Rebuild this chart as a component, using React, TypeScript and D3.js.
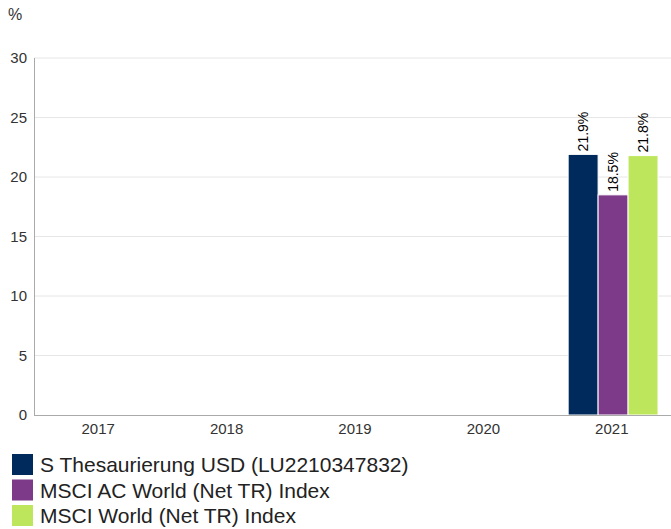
import React from 'react';
import * as d3 from 'd3';

const years = ['2017', '2018', '2019', '2020', '2021'];
const seriesNames = [
  'S Thesaurierung USD (LU2210347832)',
  'MSCI AC World (Net TR) Index',
  'MSCI World (Net TR) Index',
];
const seriesColors = ['#002a5c', '#7c3a88', '#bde65c'];
// one array per series, null = no data for that year
const fundValues = [null, null, null, null, 21.9];
const acwiValues = [null, null, null, null, 18.5];
const worldValues = [null, null, null, null, 21.8];
const yTicks = [0, 5, 10, 15, 20, 25, 30];

const W = 671;
const H = 529;
const font = 'Arial, "Liberation Sans", sans-serif';

const App: React.FC = () => {
  const series = [fundValues, acwiValues, worldValues];

  const x0 = d3.scaleBand<string>().domain(years).range([34, 676]);
  const bw = x0.bandwidth();
  const x1 = d3.scaleBand<number>().domain([0, 1, 2]).range([bw * 0.16, bw * 0.86]);
  const y = d3.scaleLinear().domain([0, 30]).range([415, 58]);

  return (
    <svg width={W} height={H} style={{ position: 'absolute', left: 0, top: 0, fontFamily: font }}>
      <rect width={W} height={H} fill="#fff" />
      <text x={8} y={20} fontSize={16} fill="#333">%</text>

      {yTicks.map(t => (
        <g key={t}>
          {t > 0 && (
            <line x1={34} x2={W} y1={y(t)} y2={y(t)} stroke="#e6e6e6" strokeWidth={1} />
          )}
          <text x={27} y={y(t)} dy="0.35em" textAnchor="end" fontSize={15} fill="#333">
            {t}
          </text>
        </g>
      ))}

      {series.map((vals, si) =>
        vals.map((v, i) => {
          if (v == null) return null;
          const bx = (x0(years[i]) ?? 0) + (x1(si) ?? 0);
          const bwid = x1.bandwidth();
          const top = y(v);
          return (
            <g key={`${si}-${i}`}>
              <rect
                x={bx}
                y={top}
                width={bwid}
                height={y(0) - top}
                fill={seriesColors[si]}
                stroke="#fff"
                strokeWidth={1}
              />
              <text
                transform={`translate(${bx + bwid / 2},${top - 3}) rotate(-90)`}
                dy="0.35em"
                fontSize={14}
                fill="#000"
              >
                {`${v.toFixed(1)}%`}
              </text>
            </g>
          );
        })
      )}

      <line x1={34.5} x2={34.5} y1={58} y2={415} stroke="#aaa" strokeWidth={1} />
      <line x1={34} x2={W} y1={415.5} y2={415.5} stroke="#aaa" strokeWidth={1} />

      {years.map(yr => (
        <text
          key={yr}
          x={(x0(yr) ?? 0) + bw / 2}
          y={434}
          textAnchor="middle"
          fontSize={15}
          fill="#333"
        >
          {yr}
        </text>
      ))}

      {seriesNames.map((name, i) => (
        <g key={name} transform={`translate(12,${454 + i * 25.5})`}>
          <rect width={21} height={21} fill={seriesColors[i]} />
          <text x={28} y={10.5} dy="0.36em" fontSize={21} fill="#222">
            {name}
          </text>
        </g>
      ))}
    </svg>
  );
};

export default App;
